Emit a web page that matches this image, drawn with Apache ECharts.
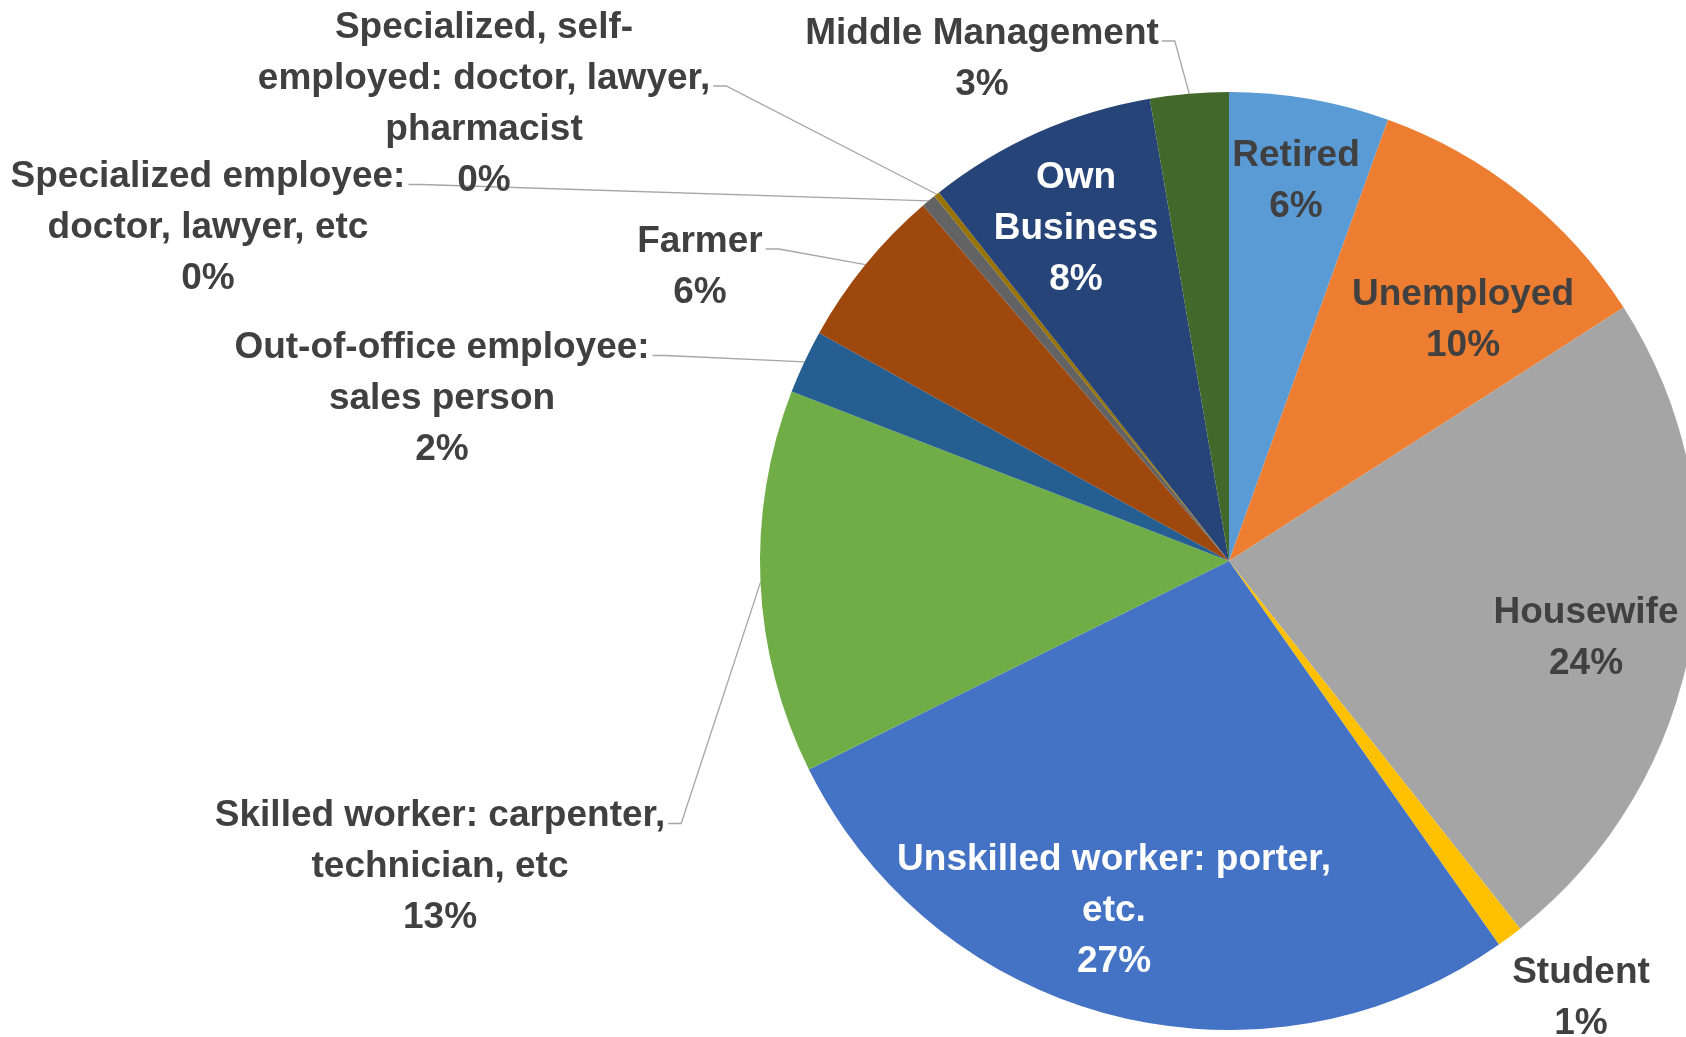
<!DOCTYPE html>
<html>
    <head>
        <meta charset="utf-8" />
        <title>Occupation</title>
        <script src="https://cdn.jsdelivr.net/npm/echarts@6.0.0/dist/echarts.min.js"></script>
        <style>
            html, body { margin: 0; padding: 0; background: #ffffff; }
        </style>
    </head>
    <body>
        <div id="grafico" style="width: 1686px; height: 1037px"></div>
        <script>
            // slices, clockwise from 12 o'clock
            const nomes = [
                "Retired",
                "Unemployed",
                "Housewife",
                "Student",
                "Unskilled worker: porter,\netc.",
                "Skilled worker: carpenter,\ntechnician, etc",
                "Out-of-office employee:\nsales person",
                "Farmer",
                "Specialized employee:\ndoctor, lawyer, etc",
                "Specialized, self-\nemployed: doctor, lawyer,\npharmacist",
                "Own\nBusiness",
                "Middle Management",
            ];
            const valores = [5.5, 10.4, 23.4, 0.9, 27.4, 13.2, 2.2, 5.6, 0.5, 0.2, 7.9, 2.7];
            const rotulosPct = ["6%", "10%", "24%", "1%", "27%", "13%", "2%", "6%", "0%", "0%", "8%", "3%"];
            const cores = [
                "#5B9BD5", "#ED7D31", "#A5A5A5", "#FFC000", "#4472C4", "#70AD47",
                "#255E91", "#9E480E", "#636363", "#997300", "#264478", "#43682B",
            ];

            // label layout (px): text block centre, which line the leader attaches to
            const dentro = [0, 1, 2, 4, 10];
            const textoBranco = [4, 10];
            const posRotulo = {
                0: [1296, 181],
                1: [1463, 320],
                2: [1586, 638],
                3: [1581, 998],
                4: [1114, 911],
                5: [440, 867],
                6: [442, 399],
                7: [700, 267],
                8: [208, 228],
                9: [484, 104],
                10: [1076, 229],
                11: [982, 59],
            };
            const linhaLider = {9: 1};
            const semLinha = [3];
            const alturaLinha = 51;

            const chart = echarts.init(document.getElementById("grafico"));

            const dados = nomes.map(function (n, i) {
                const interno = dentro.indexOf(i) >= 0;
                return {
                    name: n,
                    value: valores[i],
                    itemStyle: {color: cores[i]},
                    label: {
                        position: interno ? "inside" : "outside",
                        color: textoBranco.indexOf(i) >= 0 ? "#ffffff" : "#404040",
                    },
                    labelLine: {show: !interno && semLinha.indexOf(i) < 0},
                };
            });

            chart.setOption({
                backgroundColor: "#ffffff",
                animation: false,
                series: [
                    {
                        type: "pie",
                        center: [1229, 561],
                        radius: [0, 469],
                        startAngle: 90,
                        clockwise: true,
                        avoidLabelOverlap: false,
                        silent: true,
                        data: dados,
                        label: {
                            show: true,
                            fontFamily: "'Liberation Sans', Arial, sans-serif",
                            fontWeight: "bold",
                            fontSize: 37,
                            lineHeight: alturaLinha,
                            align: "center",
                            formatter: function (p) {
                                return p.name + "\n" + rotulosPct[p.dataIndex];
                            },
                        },
                        labelLine: {
                            lineStyle: {color: "#a6a6a6", width: 1.3},
                        },
                        labelLayout: function (p) {
                            const i = p.dataIndex;
                            const pos = posRotulo[i];
                            const w = p.labelRect.width;
                            const h = p.labelRect.height;
                            const out = {
                                x: pos[0],
                                y: pos[1],
                                align: "center",
                                verticalAlign: "middle",
                            };
                            if (dentro.indexOf(i) < 0 && semLinha.indexOf(i) < 0 && p.labelLinePoints) {
                                const row = linhaLider[i] || 0;
                                const ax = pos[0] + w / 2 + 3;
                                const ay = pos[1] - h / 2 + 33 + alturaLinha * row;
                                const edge = p.labelLinePoints[0];
                                out.labelLinePoints = [
                                    [edge[0], edge[1]],
                                    [ax + 13, ay],
                                    [ax, ay],
                                ];
                            }
                            return out;
                        },
                    },
                ],
            });
        </script>
    </body>
</html>
